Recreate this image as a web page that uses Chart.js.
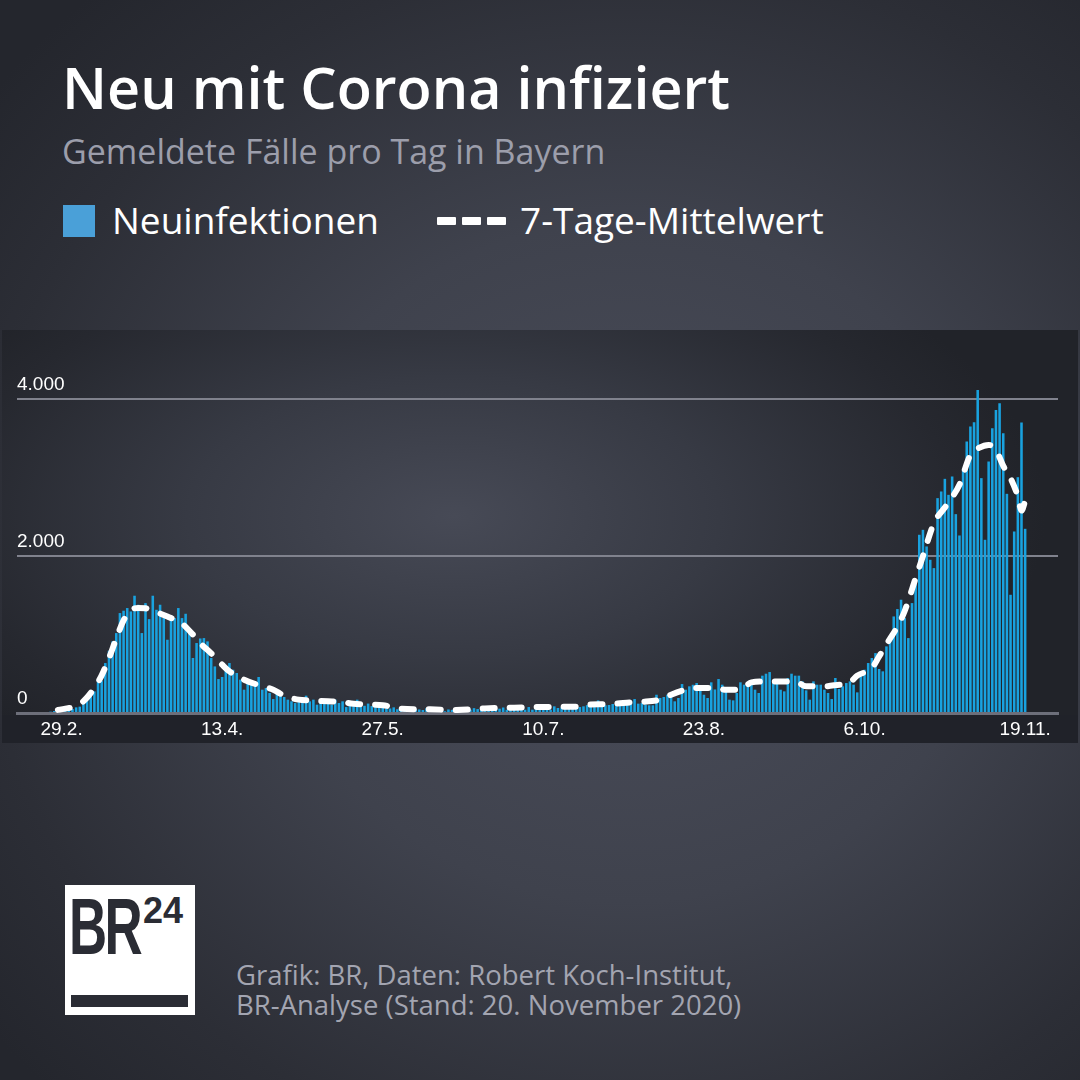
<!DOCTYPE html>
<html lang="de">
<head>
<meta charset="utf-8">
<title>Neu mit Corona infiziert</title>
<script src="https://cdn.jsdelivr.net/npm/chart.js@4.4.1/dist/chart.umd.min.js"></script>
<style>
  html, body { margin: 0; padding: 0; }
  body { width: 1080px; height: 1080px; overflow: hidden; }
  .page {
    position: relative; width: 1080px; height: 1080px; overflow: hidden;
    background: radial-gradient(ellipse 75% 70% at 58% 52%, #4b4e5b 0%, #3f424d 45%, #2c2e36 80%, #24262d 100%);
    font-family: "Open Sans", sans-serif; color: #fff;
  }
  .title { position: absolute; left: 62px; top: 58.6px; font-size: 57.5px; line-height: 57.5px; font-weight: 600; white-space: nowrap; }
  .subtitle { position: absolute; left: 62px; top: 134.3px; font-size: 34px; line-height: 34px; color: #9c9eab; white-space: nowrap; }
  .legend { position: absolute; top: 203px; left: 0; height: 34px; }
  .swatch { position: absolute; left: 63px; top: 2px; width: 32px; height: 32px; background: #4aa0d8; }
  .leg-text { position: absolute; top: 0; font-size: 37px; line-height: 34px; white-space: nowrap; }
  .dash { position: absolute; top: 14px; width: 19px; height: 8px; background: #fff; border-radius: 1px; }
  .panel {
    position: absolute; left: 2px; top: 330px; width: 1076px; height: 413px;
    background: radial-gradient(ellipse 55% 75% at 42% 45%, #474a56 0%, #373a44 45%, #26282f 85%, #212329 100%);
  }
  .strip { position: absolute; left: 0; top: 385px; width: 1076px; height: 28px; background: #202229; }
  #chart { position: absolute; left: 0; top: 0; }
  .logo { position: absolute; left: 65px; top: 885px; width: 130px; height: 130px; background: #fff; overflow: hidden; }
  .logo .br { position: absolute; left: 4px; top: -4px; font-family: "Liberation Sans Narrow", "Liberation Sans", sans-serif; font-weight: 700; font-size: 80px; color: #2a2c34; letter-spacing: -4px; transform: scaleX(0.66); transform-origin: left top; }
  .logo .num { position: absolute; left: 78px; top: 8px; font-family: "Liberation Sans Narrow", "Liberation Sans", sans-serif; font-weight: 700; font-size: 36px; line-height: 35px; color: #2a2c34; }
  .logo .bar { position: absolute; left: 6px; top: 110px; width: 117px; height: 12px; background: #2a2c34; }
  .source { position: absolute; left: 236px; top: 960px; font-size: 27.5px; line-height: 30px; color: #a3a5b1; white-space: nowrap; }
</style>
</head>
<body>
<div class="page">
  <div class="title">Neu mit Corona infiziert</div>
  <div class="subtitle">Gemeldete Fälle pro Tag in Bayern</div>
  <div class="legend">
    <div class="swatch"></div>
    <div class="leg-text" style="left:112px">Neuinfektionen</div>
    <div class="dash" style="left:437px"></div>
    <div class="dash" style="left:462px"></div>
    <div class="dash" style="left:487px"></div>
    <div class="leg-text" style="left:520px">7-Tage-Mittelwert</div>
  </div>
  <div class="panel">
    <div class="strip"></div>
    <canvas id="chart" width="1076" height="413"></canvas>
  </div>
  <div class="logo">
    <span class="br">BR</span><span class="num">24</span>
    <div class="bar"></div>
  </div>
  <div class="source">Grafik: BR, Daten: Robert Koch-Institut,<br>BR-Analyse (Stand: 20. November 2020)</div>
</div>
<script>
// daily new cases in Bavaria, 25.2. - 19.11.2020
const casesFeb = [13, 17, 25, 30, 38];
const casesMar = [42, 47, 51, 72, 81, 119, 161, 221, 276, 425, 412, 637, 794, 913, 1019, 1274,
  1304, 1338, 1295, 1495, 1380, 1019, 1401, 1197, 1495, 1316, 1380, 1210, 934, 1231, 1210];
const casesApr = [1338, 1210, 1265, 1040, 701, 892, 950, 955, 913, 701, 594, 433, 459, 586, 637,
  552, 510, 425, 297, 382, 369, 403, 459, 297, 318, 255, 178, 276, 234, 204];
const casesMay = [170, 149, 127, 170, 170, 221, 149, 170, 106, 127, 136, 149, 106, 170, 127, 149,
  76, 106, 127, 170, 76, 92, 120, 88, 75, 125, 105, 60, 58, 72, 48];
const casesJun = [64, 55, 40, 70, 52, 45, 38, 60, 48, 52, 35, 28, 22, 45, 40, 36, 30, 48, 55, 42,
  62, 50, 38, 65, 58, 48, 60, 55, 70, 42];
const casesJul = [75, 68, 56, 80, 42, 76, 42, 65, 70, 60, 75, 42, 85, 64, 70, 80, 75, 85, 93, 76,
  85, 100, 110, 115, 161, 110, 98, 102, 115, 120, 149];
const casesAug = [130, 149, 149, 178, 119, 127, 106, 98, 98, 233, 191, 204, 233, 204, 149, 191,
  369, 297, 340, 360, 382, 297, 233, 191, 391, 300, 433, 361, 276, 170, 161];
const casesSep = [255, 391, 361, 361, 391, 297, 255, 476, 501, 522, 403, 382, 297, 276, 446, 501,
  476, 476, 403, 289, 170, 403, 361, 361, 297, 255, 178, 446, 306, 340];
const casesOct = [382, 403, 361, 263, 510, 552, 637, 701, 764, 561, 531, 849, 934, 1231, 1325,
  1444, 1210, 955, 1401, 1699, 2272, 2335, 2123, 1953, 1847, 2739, 2824, 2985, 2781, 3015, 2535];
const casesNov = [2263, 3100, 3461, 3652, 3707, 4119, 2994, 2208, 3206, 3631, 3864, 3949, 3567,
  2794, 1507, 2314, 3006, 3703, 2348];

// 7-Tage-Mittelwert
const avgDates = ['28.2.', '3.3.', '6.3.', '9.3.', '11.3.', '13.3.', '15.3.', '17.3.', '19.3.',
  '21.3.', '23.3.', '26.3.', '29.3.', '2.4.', '5.4.', '7.4.', '10.4.', '13.4.', '15.4.', '19.4.',
  '23.4.', '27.4.', '30.4.', '4.5.', '7.5.', '12.5.', '15.5.', '19.5.', '23.5.', '27.5.', '1.6.',
  '9.6.', '16.6.', '24.6.', '2.7.', '8.7.', '12.7.', '15.7.', '19.7.', '22.7.', '27.7.', '30.7.',
  '3.8.', '6.8.', '11.8.', '14.8.', '18.8.', '21.8.', '26.8.', '29.8.', '2.9.', '5.9.', '10.9.',
  '13.9.', '17.9.', '20.9.', '25.9.', '28.9.', '2.10.', '4.10.', '8.10.', '10.10.', '13.10.',
  '15.10.', '17.10.', '20.10.', '22.10.', '25.10.', '28.10.', '30.10.', '1.11.', '4.11.', '6.11.',
  '9.11.', '11.11.', '13.11.', '15.11.', '17.11.', '18.11.', '19.11.'];
const avgValues = [40, 75, 150, 320, 480, 700, 950, 1180, 1310,
  1340, 1335, 1285, 1230, 1140, 1000, 890, 760, 616, 530, 425,
  355, 297, 221, 170, 161, 149, 145, 119, 108, 100, 55,
  47, 38, 59, 68, 76, 76, 81, 81, 105, 112, 120,
  136, 142, 170, 233, 297, 318, 318, 297, 300, 390, 403,
  403, 403, 340, 340, 355, 391, 476, 573, 722, 950,
  1100, 1300, 1720, 2000, 2420, 2620, 2750, 2909, 3291, 3370,
  3418, 3355, 3150, 2994, 2760, 2580, 2700];

const tickLabels = ['29.2.', '13.4.', '27.5.', '10.7.', '23.8.', '6.10.', '19.11.'];
const yTicks = [0, 2000, 4000];

const cases = [].concat(casesFeb, casesMar, casesApr, casesMay, casesJun, casesJul, casesAug, casesSep, casesOct, casesNov);

// one label per day, starting 25.2.2020
const dayLabels = [];
const d = new Date(2020, 1, 25);
for (let i = 0; i < cases.length; i++) {
  dayLabels.push(d.getDate() + "." + (d.getMonth() + 1) + ".");
  d.setDate(d.getDate() + 1);
}

function formatNumber(v) {
  return String(v).replace(/\B(?=(\d{3})+(?!\d))/g, ".");
}

Chart.defaults.font.family = "'Liberation Sans', Arial, sans-serif";

const chart = new Chart(document.getElementById("chart"), {
  type: "bar",
  data: {
    datasets: [
      {
        type: "line",
        label: "7-Tage-Mittelwert",
        data: avgDates.map((day, k) => ({ x: dayLabels.indexOf(day), y: avgValues[k] })),
        borderColor: "#ffffff",
        borderWidth: 6,
        borderDash: [12, 15],
        borderCapStyle: "round",
        cubicInterpolationMode: "monotone",
        pointRadius: 0,
        order: 0,
      },
      {
        type: "bar",
        label: "Neuinfektionen",
        data: cases.map((v, i) => ({ x: i, y: v })),
        backgroundColor: "#19a2df",
        barPercentage: 0.7,
        categoryPercentage: 1,
        order: 1,
      },
    ],
  },
  options: {
    responsive: false,
    animation: false,
    devicePixelRatio: 1,
    layout: { padding: { left: 15, right: 20, top: 30, bottom: 3 } },
    plugins: { legend: { display: false }, tooltip: { enabled: false } },
    scales: {
      x: {
        type: "linear",
        offset: false,
        min: -8.2,
        max: 277,
        grid: { display: false, offset: false, drawTicks: false },
        border: { color: "#6d6f7a", width: 3 },
        afterBuildTicks: (scale) => {
          scale.ticks = tickLabels.map((l) => ({ value: dayLabels.indexOf(l) }));
        },
        afterFit: (scale) => {
          scale.height = 27;
        },
        ticks: {
          color: "#ffffff",
          font: { size: 19 },
          padding: 5,
          maxRotation: 0,
          autoSkip: false,
          callback: (v) => dayLabels[v],
        },
      },
      y: {
        min: 0,
        max: 4500,
        border: { display: false },
        grid: {
          color: (ctx) => (ctx.tick.value === 0 ? "transparent" : "#80828d"),
          lineWidth: 2,
          drawTicks: false,
        },
        afterBuildTicks: (scale) => {
          scale.ticks = yTicks.map((v) => ({ value: v }));
        },
        ticks: {
          mirror: true,
          padding: 0,
          labelOffset: -14,
          color: "#ffffff",
          font: { size: 19 },
          callback: (v) => formatNumber(v),
        },
      },
    },
  },
});
</script>
</body>
</html>
